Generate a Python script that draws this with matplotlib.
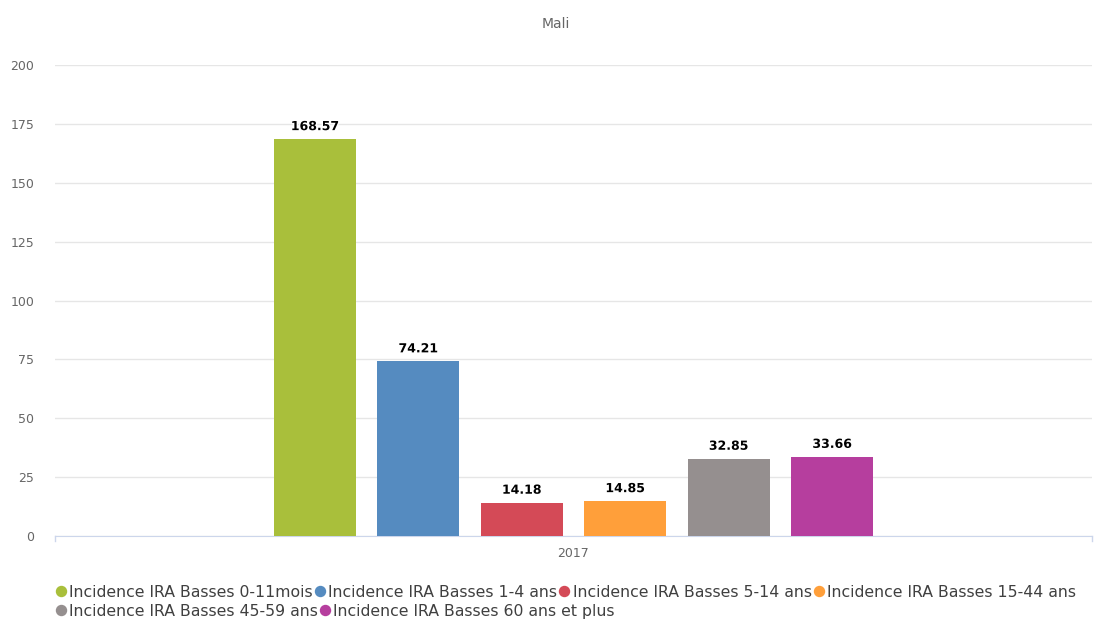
import matplotlib.pyplot as plt
import matplotlib.patheffects as pe
from matplotlib.lines import Line2D

labels = ['Incidence IRA Basses 0-11mois', 'Incidence IRA Basses 1-4 ans',
          'Incidence IRA Basses 5-14 ans', 'Incidence IRA Basses 15-44 ans',
          'Incidence IRA Basses 45-59 ans', 'Incidence IRA Basses 60 ans et plus']
values = [168.57, 74.21, 14.18, 14.85, 32.85, 33.66]
colors = ['#a9bf3b', '#558bc0', '#d44a57', '#ff9f3a', '#958f8f', '#b63e9e']
year = '2017'

W, H = 1095, 620
fig = plt.figure(figsize=(W / 100, H / 100), dpi=100)
ax = fig.add_axes([55/W, 1 - 536/H, 1037/W, 471/H])

x = list(range(len(values)))
for i in x:
    ax.bar(i, values[i], width=0.793, color=colors[i], label=labels[i], zorder=3)
    ax.text(i, values[i] + 2.5, f'{values[i]:.2f}', ha='center', va='bottom',
            fontsize=9, fontweight='bold', color='#000000', zorder=4,
            path_effects=[pe.withStroke(linewidth=2, foreground='white')])

x0, x1 = -2.514, 7.514
ax.set_xlim(x0, x1)
ax.set_ylim(0, 200)
ax.set_yticks(range(0, 201, 25))
ax.yaxis.grid(True, color='#e6e6e6', linewidth=1, zorder=0)
ax.set_xticks([2.5])
ax.set_xticklabels([year])
ax.tick_params(axis='y', length=0, labelsize=9, labelcolor='#666666', pad=15)
ax.tick_params(axis='x', length=0, labelsize=9, labelcolor='#666666', pad=8)
for s in ['top', 'right', 'left']:
    ax.spines[s].set_visible(False)
ax.spines['bottom'].set_color('#ccd6eb')
ax.plot([x0, x0], [0, -2.2], color='#ccd6eb', lw=1, clip_on=False)
ax.plot([x1, x1], [0, -2.2], color='#ccd6eb', lw=1, clip_on=False)

fig.text(556/W, 1 - 24/H, 'Mali', ha='center', va='center', fontsize=10, color='#666666')

# legend packed row by row like the original (4 items, then 2)
rows = [[0, 1, 2, 3], [4, 5]]
row_y = [591, 610]
renderer = fig.canvas.get_renderer()
for r, items in enumerate(rows):
    px = 60.5
    for k in items:
        yy = 1 - row_y[r] / H
        fig.add_artist(Line2D([px / W], [yy], marker='o', ls='', color=colors[k],
                              markersize=7.2, transform=fig.transFigure))
        t = fig.text((px + 8.5) / W, yy, labels[k], ha='left', va='center_baseline',
                     fontsize=11.3, color='#404040')
        ext = t.get_window_extent(renderer)
        px = ext.x1 + 7

fig.savefig('out.png', dpi=100)
